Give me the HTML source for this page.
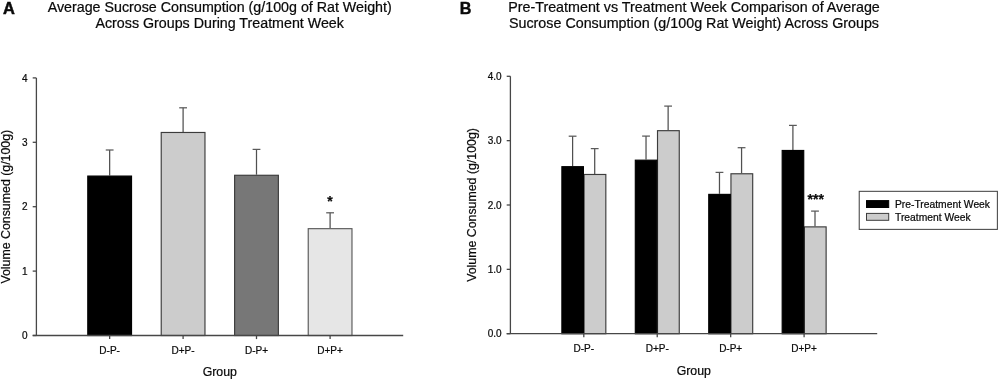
<!DOCTYPE html>
<html><head><meta charset="utf-8"><style>
html,body{margin:0;padding:0;background:#fff;width:1000px;height:380px;overflow:hidden}
svg{display:block;will-change:transform}
text{font-family:"Liberation Sans",sans-serif;fill:#0a0a0a;stroke:#0a0a0a;stroke-width:0.22px}
</style></head><body>
<svg width="1000" height="380" viewBox="0 0 1000 380">
<text x="2.90" y="13.70" font-size="16.4" text-anchor="start" font-weight="bold" style="stroke-width:0.5px">A</text>
<text x="459.70" y="14.00" font-size="16.2" text-anchor="start" font-weight="bold" style="stroke-width:0.4px">B</text>
<text x="219.70" y="12.30" font-size="14.25" text-anchor="middle" font-weight="normal" >Average Sucrose Consumption (g/100g of Rat Weight)</text>
<text x="219.70" y="27.60" font-size="14.25" text-anchor="middle" font-weight="normal" >Across Groups During Treatment Week</text>
<text x="694.00" y="11.90" font-size="14.3" text-anchor="middle" font-weight="normal" >Pre-Treatment vs Treatment Week Comparison of Average</text>
<text x="694.00" y="27.90" font-size="14.3" text-anchor="middle" font-weight="normal" >Sucrose Consumption (g/100g Rat Weight) Across Groups</text>
<line x1="109.65" y1="150.00" x2="109.65" y2="175.50" stroke="#505050" stroke-width="1.25"/>
<line x1="105.75" y1="150.00" x2="113.55" y2="150.00" stroke="#5a5a5a" stroke-width="1.25"/>
<rect x="87.78" y="176.07" width="43.75" height="159.45" fill="#000000" stroke="#000" stroke-width="1.15"/>
<line x1="183.10" y1="107.80" x2="183.10" y2="131.90" stroke="#505050" stroke-width="1.25"/>
<line x1="179.20" y1="107.80" x2="187.00" y2="107.80" stroke="#5a5a5a" stroke-width="1.25"/>
<rect x="161.22" y="132.47" width="43.75" height="203.05" fill="#cccccc" stroke="#3c3c3c" stroke-width="1.15"/>
<line x1="256.50" y1="149.40" x2="256.50" y2="174.70" stroke="#505050" stroke-width="1.25"/>
<line x1="252.60" y1="149.40" x2="260.40" y2="149.40" stroke="#5a5a5a" stroke-width="1.25"/>
<rect x="234.62" y="175.27" width="43.75" height="160.25" fill="#777777" stroke="#3c3c3c" stroke-width="1.15"/>
<line x1="330.10" y1="212.80" x2="330.10" y2="228.10" stroke="#505050" stroke-width="1.25"/>
<line x1="326.20" y1="212.80" x2="334.00" y2="212.80" stroke="#5a5a5a" stroke-width="1.25"/>
<rect x="308.23" y="228.67" width="43.75" height="106.85" fill="#e6e6e6" stroke="#5a5a5a" stroke-width="1.15"/>
<line x1="36.40" y1="77.90" x2="36.40" y2="335.50" stroke="#474747" stroke-width="1.3"/>
<line x1="32.70" y1="335.50" x2="403.20" y2="335.50" stroke="#474747" stroke-width="1.3"/>
<line x1="32.70" y1="335.50" x2="36.40" y2="335.50" stroke="#474747" stroke-width="1.3"/>
<text x="27.60" y="339.10" font-size="10" text-anchor="end" font-weight="normal" >0</text>
<line x1="32.70" y1="271.10" x2="36.40" y2="271.10" stroke="#474747" stroke-width="1.3"/>
<text x="27.60" y="274.70" font-size="10" text-anchor="end" font-weight="normal" >1</text>
<line x1="32.70" y1="206.70" x2="36.40" y2="206.70" stroke="#474747" stroke-width="1.3"/>
<text x="27.60" y="210.30" font-size="10" text-anchor="end" font-weight="normal" >2</text>
<line x1="32.70" y1="142.30" x2="36.40" y2="142.30" stroke="#474747" stroke-width="1.3"/>
<text x="27.60" y="145.90" font-size="10" text-anchor="end" font-weight="normal" >3</text>
<line x1="32.70" y1="77.90" x2="36.40" y2="77.90" stroke="#474747" stroke-width="1.3"/>
<text x="27.60" y="81.50" font-size="10" text-anchor="end" font-weight="normal" >4</text>
<line x1="109.65" y1="335.50" x2="109.65" y2="339.10" stroke="#474747" stroke-width="1.3"/>
<text x="109.65" y="353.50" font-size="10" text-anchor="middle" font-weight="normal" >D-P-</text>
<line x1="183.10" y1="335.50" x2="183.10" y2="339.10" stroke="#474747" stroke-width="1.3"/>
<text x="183.10" y="353.50" font-size="10" text-anchor="middle" font-weight="normal" >D+P-</text>
<line x1="256.50" y1="335.50" x2="256.50" y2="339.10" stroke="#474747" stroke-width="1.3"/>
<text x="256.50" y="353.50" font-size="10" text-anchor="middle" font-weight="normal" >D-P+</text>
<line x1="330.10" y1="335.50" x2="330.10" y2="339.10" stroke="#474747" stroke-width="1.3"/>
<text x="330.10" y="353.50" font-size="10" text-anchor="middle" font-weight="normal" >D+P+</text>
<text x="219.80" y="375.80" font-size="12.3" text-anchor="middle" font-weight="normal" >Group</text>
<text x="329.90" y="205.80" font-size="14" text-anchor="middle" font-weight="bold" >*</text>
<line x1="572.60" y1="136.20" x2="572.60" y2="166.10" stroke="#505050" stroke-width="1.25"/>
<line x1="568.70" y1="136.20" x2="576.50" y2="136.20" stroke="#5a5a5a" stroke-width="1.25"/>
<line x1="594.70" y1="148.60" x2="594.70" y2="173.90" stroke="#505050" stroke-width="1.25"/>
<line x1="590.80" y1="148.60" x2="598.60" y2="148.60" stroke="#5a5a5a" stroke-width="1.25"/>
<rect x="584.08" y="174.47" width="21.75" height="159.25" fill="#cccccc" stroke="#3c3c3c" stroke-width="1.15"/>
<rect x="561.88" y="166.67" width="21.55" height="167.05" fill="#000000" stroke="#000" stroke-width="1.15"/>
<line x1="646.03" y1="136.10" x2="646.03" y2="159.60" stroke="#505050" stroke-width="1.25"/>
<line x1="642.13" y1="136.10" x2="649.93" y2="136.10" stroke="#5a5a5a" stroke-width="1.25"/>
<line x1="668.13" y1="106.10" x2="668.13" y2="130.10" stroke="#505050" stroke-width="1.25"/>
<line x1="664.23" y1="106.10" x2="672.03" y2="106.10" stroke="#5a5a5a" stroke-width="1.25"/>
<rect x="657.51" y="130.67" width="21.75" height="203.05" fill="#cccccc" stroke="#3c3c3c" stroke-width="1.15"/>
<rect x="635.31" y="160.17" width="21.55" height="173.55" fill="#000000" stroke="#000" stroke-width="1.15"/>
<line x1="719.47" y1="172.40" x2="719.47" y2="193.80" stroke="#505050" stroke-width="1.25"/>
<line x1="715.57" y1="172.40" x2="723.37" y2="172.40" stroke="#5a5a5a" stroke-width="1.25"/>
<line x1="741.57" y1="147.70" x2="741.57" y2="173.20" stroke="#505050" stroke-width="1.25"/>
<line x1="737.67" y1="147.70" x2="745.47" y2="147.70" stroke="#5a5a5a" stroke-width="1.25"/>
<rect x="730.95" y="173.77" width="21.75" height="159.95" fill="#cccccc" stroke="#3c3c3c" stroke-width="1.15"/>
<rect x="708.75" y="194.38" width="21.55" height="139.35" fill="#000000" stroke="#000" stroke-width="1.15"/>
<line x1="792.90" y1="125.40" x2="792.90" y2="149.90" stroke="#505050" stroke-width="1.25"/>
<line x1="789.00" y1="125.40" x2="796.80" y2="125.40" stroke="#5a5a5a" stroke-width="1.25"/>
<line x1="815.00" y1="211.10" x2="815.00" y2="226.30" stroke="#505050" stroke-width="1.25"/>
<line x1="811.10" y1="211.10" x2="818.90" y2="211.10" stroke="#5a5a5a" stroke-width="1.25"/>
<rect x="804.38" y="226.88" width="21.75" height="106.85" fill="#cccccc" stroke="#3c3c3c" stroke-width="1.15"/>
<rect x="782.18" y="150.47" width="21.55" height="183.25" fill="#000000" stroke="#000" stroke-width="1.15"/>
<line x1="510.40" y1="76.30" x2="510.40" y2="333.70" stroke="#474747" stroke-width="1.3"/>
<line x1="506.70" y1="333.70" x2="877.20" y2="333.70" stroke="#474747" stroke-width="1.3"/>
<line x1="506.70" y1="333.70" x2="510.40" y2="333.70" stroke="#474747" stroke-width="1.3"/>
<text x="501.60" y="337.30" font-size="10" text-anchor="end" font-weight="normal" >0.0</text>
<line x1="506.70" y1="269.35" x2="510.40" y2="269.35" stroke="#474747" stroke-width="1.3"/>
<text x="501.60" y="272.95" font-size="10" text-anchor="end" font-weight="normal" >1.0</text>
<line x1="506.70" y1="205.00" x2="510.40" y2="205.00" stroke="#474747" stroke-width="1.3"/>
<text x="501.60" y="208.60" font-size="10" text-anchor="end" font-weight="normal" >2.0</text>
<line x1="506.70" y1="140.65" x2="510.40" y2="140.65" stroke="#474747" stroke-width="1.3"/>
<text x="501.60" y="144.25" font-size="10" text-anchor="end" font-weight="normal" >3.0</text>
<line x1="506.70" y1="76.30" x2="510.40" y2="76.30" stroke="#474747" stroke-width="1.3"/>
<text x="501.60" y="79.90" font-size="10" text-anchor="end" font-weight="normal" >4.0</text>
<line x1="583.80" y1="333.70" x2="583.80" y2="337.30" stroke="#474747" stroke-width="1.3"/>
<text x="583.80" y="352.20" font-size="10" text-anchor="middle" font-weight="normal" >D-P-</text>
<line x1="657.23" y1="333.70" x2="657.23" y2="337.30" stroke="#474747" stroke-width="1.3"/>
<text x="657.23" y="352.20" font-size="10" text-anchor="middle" font-weight="normal" >D+P-</text>
<line x1="730.67" y1="333.70" x2="730.67" y2="337.30" stroke="#474747" stroke-width="1.3"/>
<text x="730.67" y="352.20" font-size="10" text-anchor="middle" font-weight="normal" >D-P+</text>
<line x1="804.10" y1="333.70" x2="804.10" y2="337.30" stroke="#474747" stroke-width="1.3"/>
<text x="804.10" y="352.20" font-size="10" text-anchor="middle" font-weight="normal" >D+P+</text>
<text x="693.80" y="374.70" font-size="12.3" text-anchor="middle" font-weight="normal" >Group</text>
<text x="815.80" y="204.20" font-size="14" text-anchor="middle" font-weight="bold" >***</text>
<text x="0.00" y="0.00" font-size="12.35" text-anchor="middle" font-weight="normal" transform="translate(10.2,206.7) rotate(-90)">Volume Consumed (g/100g)</text>
<text x="0.00" y="0.00" font-size="12.35" text-anchor="middle" font-weight="normal" transform="translate(476,205.0) rotate(-90)">Volume Consumed (g/100g)</text>
<rect x="859.23" y="191.33" width="138.15" height="38.05" fill="#ffffff" stroke="#444444" stroke-width="1.05"/>
<rect x="866.50" y="200.60" width="22.20" height="6.90" fill="#000000" stroke="#000" stroke-width="1.0"/>
<rect x="866.50" y="213.40" width="22.20" height="6.90" fill="#cccccc" stroke="#3c3c3c" stroke-width="1.0"/>
<text x="895.00" y="207.60" font-size="10.3" text-anchor="start" font-weight="normal" >Pre-Treatment Week</text>
<text x="895.00" y="220.70" font-size="10.3" text-anchor="start" font-weight="normal" >Treatment Week</text>
</svg>
</body></html>
